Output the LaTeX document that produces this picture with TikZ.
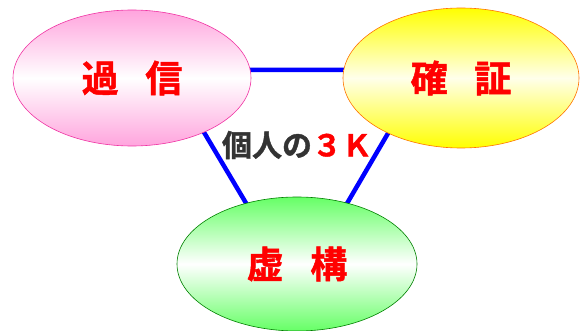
\documentclass[tikz,border=0pt]{standalone}
\usepackage{fontspec}
\usetikzlibrary{shapes.geometric}
\newfontfamily\cjk{Noto Sans CJK JP}[BoldFont={Noto Sans CJK JP Bold},BoldFeatures={FakeBold=1.3}]
\definecolor{kred}{RGB}{255,0,0}
\definecolor{kgray}{RGB}{51,51,51}
\definecolor{kblue}{RGB}{0,0,255}
\begin{document}
\begin{tikzpicture}[x=1pt,y=-1pt,
  blob/.style={ellipse, inner sep=0pt, line width=0.6pt,
    font=\cjk\bfseries\fontsize{37}{40}\selectfont, text=kred},
  conn/.style={draw=kblue, line width=4.5pt}]
\useasboundingbox (0,0) rectangle (580,331);
\coordinate (ta) at (167,70);
\coordinate (tb) at (425,70);
\coordinate (tc) at (297,289);
\draw[conn] (ta) -- (tb) -- (tc) -- cycle;
\node[blob, minimum width=238pt, minimum height=136pt,
  top color=pink!70!magenta!75, bottom color=pink!70!magenta!75, middle color=white, draw=magenta!80]
  (kashin) at (132,78) {過\hspace{0.72em}信};
\node[blob, minimum width=236pt, minimum height=140pt,
  top color=yellow, bottom color=yellow, middle color=yellow!8, draw=orange!90!red]
  (kakusho) at (461,78) {確\hspace{0.72em}証};
\node[blob, minimum width=240pt, minimum height=134pt,
  top color=green!60!white, bottom color=green!60!white, middle color=white, draw=green!50!black]
  (kyoko) at (297,264) {虚\hspace{0.72em}構};
\node[font=\cjk\bfseries\fontsize{30}{34}\selectfont, text=kgray] (title) at (297,145)
  {個人の\textcolor{kred}{３Ｋ}};
\end{tikzpicture}
\end{document}
